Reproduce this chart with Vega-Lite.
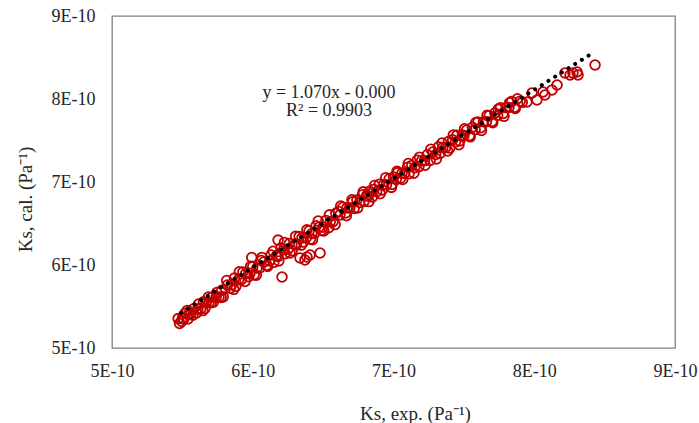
{
  "$schema": "https://vega.github.io/schema/vega-lite/v6.json",
  "autosize": {"type": "none"},
  "padding": {"left": 112, "top": 16, "right": 24, "bottom": 75},
  "width": 563,
  "height": 332,
  "background": "white",
  "config": {
    "view": {"stroke": "#808080", "strokeWidth": 1.3},
    "font": "Liberation Serif"
  },
  "datasets": {
    "pts": [
      {"x": 5.47e-10, "y": 5.354e-10}, {"x": 5.48e-10, "y": 5.295e-10}, {"x": 5.50e-10, "y": 5.356e-10}, {"x": 5.51e-10, "y": 5.347e-10},
      {"x": 5.52e-10, "y": 5.417e-10}, {"x": 5.54e-10, "y": 5.349e-10}, {"x": 5.55e-10, "y": 5.420e-10}, {"x": 5.56e-10, "y": 5.410e-10},
      {"x": 5.58e-10, "y": 5.472e-10}, {"x": 5.60e-10, "y": 5.423e-10}, {"x": 5.61e-10, "y": 5.474e-10}, {"x": 5.63e-10, "y": 5.475e-10},
      {"x": 5.65e-10, "y": 5.557e-10}, {"x": 5.66e-10, "y": 5.477e-10}, {"x": 5.67e-10, "y": 5.548e-10}, {"x": 5.69e-10, "y": 5.549e-10},
      {"x": 5.71e-10, "y": 5.611e-10}, {"x": 5.72e-10, "y": 5.551e-10}, {"x": 5.74e-10, "y": 5.613e-10}, {"x": 5.76e-10, "y": 5.614e-10},
      {"x": 5.78e-10, "y": 5.696e-10}, {"x": 5.79e-10, "y": 5.616e-10},
      {"x": 5.495e-10, "y": 5.321e-10}, {"x": 5.535e-10, "y": 5.453e-10}, {"x": 5.575e-10, "y": 5.396e-10}, {"x": 5.615e-10, "y": 5.529e-10},
      {"x": 5.645e-10, "y": 5.451e-10}, {"x": 5.685e-10, "y": 5.614e-10}, {"x": 5.705e-10, "y": 5.545e-10}, {"x": 5.745e-10, "y": 5.668e-10},
      {"x": 5.775e-10, "y": 5.610e-10},
      {"x": 5.82e-10, "y": 5.758e-10}, {"x": 5.84e-10, "y": 5.720e-10}, {"x": 5.85e-10, "y": 5.761e-10}, {"x": 5.87e-10, "y": 5.842e-10},
      {"x": 5.88e-10, "y": 5.743e-10}, {"x": 5.90e-10, "y": 5.824e-10}, {"x": 5.92e-10, "y": 5.825e-10}, {"x": 5.93e-10, "y": 5.916e-10},
      {"x": 5.95e-10, "y": 5.898e-10}, {"x": 5.97e-10, "y": 5.859e-10}, {"x": 5.98e-10, "y": 5.900e-10}, {"x": 6.00e-10, "y": 5.981e-10},
      {"x": 6.01e-10, "y": 5.882e-10}, {"x": 6.03e-10, "y": 5.963e-10}, {"x": 6.05e-10, "y": 5.965e-10}, {"x": 6.06e-10, "y": 6.055e-10},
      {"x": 6.08e-10, "y": 6.037e-10}, {"x": 6.10e-10, "y": 5.998e-10}, {"x": 6.12e-10, "y": 6.049e-10}, {"x": 6.13e-10, "y": 6.120e-10},
      {"x": 6.15e-10, "y": 6.032e-10}, {"x": 6.17e-10, "y": 6.113e-10}, {"x": 6.18e-10, "y": 6.104e-10}, {"x": 6.20e-10, "y": 6.205e-10},
      {"x": 6.22e-10, "y": 6.186e-10}, {"x": 6.23e-10, "y": 6.137e-10}, {"x": 6.25e-10, "y": 6.189e-10}, {"x": 6.26e-10, "y": 6.259e-10},
      {"x": 6.28e-10, "y": 6.171e-10}, {"x": 6.30e-10, "y": 6.252e-10}, {"x": 6.31e-10, "y": 6.243e-10}, {"x": 6.33e-10, "y": 6.344e-10},
      {"x": 6.35e-10, "y": 6.326e-10}, {"x": 6.36e-10, "y": 6.276e-10}, {"x": 6.38e-10, "y": 6.328e-10}, {"x": 6.40e-10, "y": 6.409e-10},
      {"x": 6.41e-10, "y": 6.310e-10}, {"x": 6.42e-10, "y": 6.380e-10}, {"x": 6.44e-10, "y": 6.382e-10}, {"x": 6.45e-10, "y": 6.473e-10},
      {"x": 6.47e-10, "y": 6.454e-10}, {"x": 6.49e-10, "y": 6.415e-10}, {"x": 6.50e-10, "y": 6.456e-10}, {"x": 6.52e-10, "y": 6.537e-10},
      {"x": 6.54e-10, "y": 6.449e-10}, {"x": 6.55e-10, "y": 6.520e-10}, {"x": 6.57e-10, "y": 6.521e-10}, {"x": 6.59e-10, "y": 6.622e-10},
      {"x": 5.815e-10, "y": 5.813e-10}, {"x": 5.865e-10, "y": 5.707e-10}, {"x": 5.905e-10, "y": 5.919e-10}, {"x": 5.945e-10, "y": 5.802e-10},
      {"x": 5.985e-10, "y": 5.985e-10}, {"x": 6.025e-10, "y": 5.878e-10}, {"x": 6.065e-10, "y": 6.091e-10}, {"x": 6.105e-10, "y": 5.983e-10},
      {"x": 6.145e-10, "y": 6.166e-10}, {"x": 6.185e-10, "y": 6.049e-10}, {"x": 6.225e-10, "y": 6.272e-10}, {"x": 6.265e-10, "y": 6.145e-10},
      {"x": 6.305e-10, "y": 6.347e-10}, {"x": 6.345e-10, "y": 6.240e-10}, {"x": 6.385e-10, "y": 6.423e-10}, {"x": 6.425e-10, "y": 6.306e-10},
      {"x": 6.465e-10, "y": 6.529e-10}, {"x": 6.505e-10, "y": 6.411e-10}, {"x": 6.545e-10, "y": 6.604e-10}, {"x": 6.585e-10, "y": 6.487e-10},
      {"x": 5.993e-10, "y": 6.09e-10}, {"x": 6.18e-10, "y": 6.30e-10},
      {"x": 6.208e-10, "y": 5.855e-10}, {"x": 6.336e-10, "y": 6.084e-10}, {"x": 6.371e-10, "y": 6.06e-10}, {"x": 6.385e-10, "y": 6.096e-10},
      {"x": 6.407e-10, "y": 6.12e-10}, {"x": 6.478e-10, "y": 6.145e-10},
      {"x": 6.61e-10, "y": 6.644e-10}, {"x": 6.62e-10, "y": 6.604e-10}, {"x": 6.64e-10, "y": 6.696e-10}, {"x": 6.66e-10, "y": 6.627e-10},
      {"x": 6.67e-10, "y": 6.688e-10}, {"x": 6.69e-10, "y": 6.689e-10}, {"x": 6.71e-10, "y": 6.761e-10}, {"x": 6.72e-10, "y": 6.681e-10},
      {"x": 6.74e-10, "y": 6.783e-10}, {"x": 6.76e-10, "y": 6.754e-10}, {"x": 6.78e-10, "y": 6.846e-10}, {"x": 6.79e-10, "y": 6.766e-10},
      {"x": 6.81e-10, "y": 6.838e-10}, {"x": 6.82e-10, "y": 6.828e-10}, {"x": 6.83e-10, "y": 6.889e-10}, {"x": 6.85e-10, "y": 6.821e-10},
      {"x": 6.86e-10, "y": 6.911e-10}, {"x": 6.88e-10, "y": 6.883e-10}, {"x": 6.90e-10, "y": 6.974e-10}, {"x": 6.92e-10, "y": 6.905e-10},
      {"x": 6.93e-10, "y": 6.966e-10}, {"x": 6.95e-10, "y": 6.968e-10}, {"x": 6.97e-10, "y": 7.039e-10}, {"x": 6.99e-10, "y": 6.970e-10},
      {"x": 7.00e-10, "y": 7.061e-10}, {"x": 7.02e-10, "y": 7.032e-10}, {"x": 7.03e-10, "y": 7.113e-10}, {"x": 7.05e-10, "y": 7.045e-10},
      {"x": 7.06e-10, "y": 7.105e-10}, {"x": 7.08e-10, "y": 7.107e-10}, {"x": 7.10e-10, "y": 7.178e-10}, {"x": 7.11e-10, "y": 7.099e-10},
      {"x": 7.13e-10, "y": 7.200e-10}, {"x": 7.15e-10, "y": 7.172e-10}, {"x": 7.17e-10, "y": 7.263e-10}, {"x": 7.18e-10, "y": 7.184e-10},
      {"x": 7.20e-10, "y": 7.255e-10}, {"x": 7.22e-10, "y": 7.256e-10}, {"x": 7.24e-10, "y": 7.328e-10}, {"x": 7.26e-10, "y": 7.259e-10},
      {"x": 7.28e-10, "y": 7.361e-10}, {"x": 7.30e-10, "y": 7.332e-10}, {"x": 7.32e-10, "y": 7.423e-10}, {"x": 7.33e-10, "y": 7.344e-10},
      {"x": 7.35e-10, "y": 7.416e-10}, {"x": 7.37e-10, "y": 7.417e-10}, {"x": 7.39e-10, "y": 7.488e-10}, {"x": 7.40e-10, "y": 7.409e-10},
      {"x": 7.42e-10, "y": 7.510e-10}, {"x": 7.44e-10, "y": 7.482e-10}, {"x": 7.45e-10, "y": 7.563e-10}, {"x": 7.47e-10, "y": 7.494e-10},
      {"x": 7.49e-10, "y": 7.565e-10}, {"x": 7.50e-10, "y": 7.556e-10}, {"x": 7.52e-10, "y": 7.627e-10}, {"x": 7.54e-10, "y": 7.559e-10},
      {"x": 7.56e-10, "y": 7.660e-10}, {"x": 7.58e-10, "y": 7.632e-10}, {"x": 7.60e-10, "y": 7.723e-10}, {"x": 7.62e-10, "y": 7.654e-10},
      {"x": 7.64e-10, "y": 7.726e-10}, {"x": 7.66e-10, "y": 7.727e-10}, {"x": 7.68e-10, "y": 7.799e-10}, {"x": 7.70e-10, "y": 7.730e-10},
      {"x": 7.72e-10, "y": 7.831e-10}, {"x": 7.74e-10, "y": 7.803e-10}, {"x": 7.76e-10, "y": 7.894e-10}, {"x": 7.78e-10, "y": 7.826e-10},
      {"x": 7.80e-10, "y": 7.897e-10}, {"x": 7.82e-10, "y": 7.898e-10}, {"x": 7.84e-10, "y": 7.970e-10}, {"x": 7.86e-10, "y": 7.901e-10},
      {"x": 7.88e-10, "y": 8.003e-10}, {"x": 7.90e-10, "y": 7.974e-10},
      {"x": 6.625e-10, "y": 6.710e-10}, {"x": 6.665e-10, "y": 6.593e-10}, {"x": 6.705e-10, "y": 6.785e-10}, {"x": 6.745e-10, "y": 6.688e-10},
      {"x": 6.785e-10, "y": 6.881e-10}, {"x": 6.825e-10, "y": 6.764e-10}, {"x": 6.865e-10, "y": 6.957e-10}, {"x": 6.905e-10, "y": 6.859e-10},
      {"x": 6.945e-10, "y": 7.052e-10}, {"x": 6.985e-10, "y": 6.935e-10}, {"x": 7.025e-10, "y": 7.128e-10}, {"x": 7.065e-10, "y": 7.031e-10},
      {"x": 7.105e-10, "y": 7.223e-10}, {"x": 7.145e-10, "y": 7.106e-10}, {"x": 7.185e-10, "y": 7.299e-10}, {"x": 7.225e-10, "y": 7.202e-10},
      {"x": 7.265e-10, "y": 7.395e-10}, {"x": 7.305e-10, "y": 7.277e-10}, {"x": 7.345e-10, "y": 7.470e-10}, {"x": 7.385e-10, "y": 7.373e-10},
      {"x": 7.425e-10, "y": 7.566e-10}, {"x": 7.465e-10, "y": 7.449e-10}, {"x": 7.505e-10, "y": 7.641e-10}, {"x": 7.545e-10, "y": 7.544e-10},
      {"x": 7.585e-10, "y": 7.717e-10}, {"x": 7.625e-10, "y": 7.620e-10}, {"x": 7.665e-10, "y": 7.803e-10}, {"x": 7.705e-10, "y": 7.715e-10},
      {"x": 7.745e-10, "y": 7.878e-10}, {"x": 7.785e-10, "y": 7.791e-10}, {"x": 7.825e-10, "y": 7.954e-10}, {"x": 7.865e-10, "y": 7.887e-10},
      {"x": 7.915e-10, "y": 7.960e-10},
      {"x": 7.948e-10, "y": 7.964e-10}, {"x": 7.984e-10, "y": 8.072e-10}, {"x": 8.019e-10, "y": 7.988e-10}, {"x": 8.062e-10, "y": 8.084e-10},
      {"x": 8.076e-10, "y": 8.048e-10}, {"x": 8.126e-10, "y": 8.108e-10}, {"x": 8.162e-10, "y": 8.169e-10}, {"x": 8.218e-10, "y": 8.313e-10},
      {"x": 8.254e-10, "y": 8.289e-10}, {"x": 8.275e-10, "y": 8.313e-10}, {"x": 8.304e-10, "y": 8.325e-10}, {"x": 8.311e-10, "y": 8.289e-10},
      {"x": 8.432e-10, "y": 8.410e-10}
    ],
    "trend": [
      {"x": 5.49e-10, "y": 5.425e-10},
      {"x": 8.42e-10, "y": 8.560e-10}
    ],
    "eq": [
      {"x": 6.542e-10, "y": 8.072e-10, "label": "y = 1.070x - 0.000"},
      {"x": 6.542e-10, "y": 7.85e-10, "label": "R² = 0.9903"}
    ]
  },
  "layer": [
    {
      "data": {"name": "pts"},
      "mark": {"type": "point", "shape": "circle", "filled": false, "size": 95, "strokeWidth": 1.8, "color": "#C00000", "opacity": 1},
      "encoding": {
        "x": {
          "field": "x", "type": "quantitative",
          "scale": {"domain": [5e-10, 9e-10], "nice": false, "zero": false},
          "axis": {
            "values": [5e-10, 6e-10, 7e-10, 8e-10, 9e-10],
            "labelExpr": "format(datum.value*1e10, '.0f') + 'E-10'",
            "grid": false, "ticks": false, "domain": false,
            "labelFont": "Liberation Serif", "labelFontSize": 18, "labelColor": "#262626",
            "labelPadding": 14, "labelFlush": false,
            "title": "Ks, exp. (Pa⁻¹)",
            "titleFont": "Liberation Serif", "titleFontSize": 19, "titleFontWeight": "normal", "titleColor": "#262626",
            "titleAnchor": "start", "titleAlign": "center", "titleBaseline": "alphabetic",
            "titleX": 303, "titleY": 71
          }
        },
        "y": {
          "field": "y", "type": "quantitative",
          "scale": {"domain": [5e-10, 9e-10], "nice": false, "zero": false},
          "axis": {
            "values": [5e-10, 6e-10, 7e-10, 8e-10, 9e-10],
            "labelExpr": "format(datum.value*1e10, '.0f') + 'E-10'",
            "grid": false, "ticks": false, "domain": false,
            "labelFont": "Liberation Serif", "labelFontSize": 18, "labelColor": "#262626",
            "labelPadding": 17, "labelFlush": false,
            "title": "Ks, cal. (Pa⁻¹)",
            "titleFont": "Liberation Serif", "titleFontSize": 19, "titleFontWeight": "normal", "titleColor": "#262626",
            "titleAngle": -90, "titleAlign": "center", "titleBaseline": "alphabetic",
            "titleX": -81, "titleY": 183
          }
        }
      }
    },
    {
      "data": {"name": "trend"},
      "mark": {"type": "line", "color": "#000000", "strokeWidth": 4, "strokeDash": [0.1, 7.8], "strokeCap": "round", "opacity": 1},
      "encoding": {
        "x": {"field": "x", "type": "quantitative"},
        "y": {"field": "y", "type": "quantitative"}
      }
    },
    {
      "data": {"name": "eq"},
      "mark": {"type": "text", "font": "Liberation Serif", "fontSize": 18, "color": "#262626", "align": "center", "baseline": "middle"},
      "encoding": {
        "x": {"field": "x", "type": "quantitative"},
        "y": {"field": "y", "type": "quantitative"},
        "text": {"field": "label"}
      }
    }
  ]
}
